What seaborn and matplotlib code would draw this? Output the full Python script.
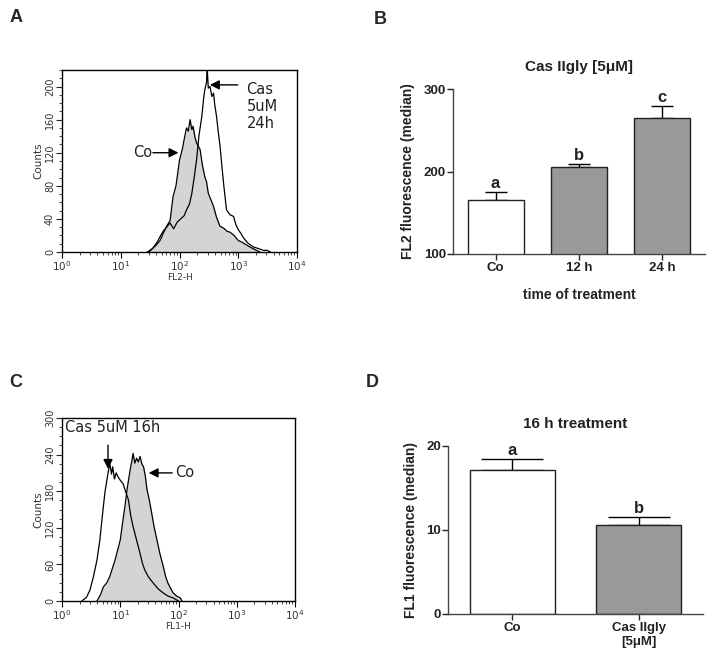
import numpy as np
import pandas as pd
import matplotlib
matplotlib.use("Agg")
import matplotlib.pyplot as plt
import seaborn as sns

sns.set_theme(style="white")
plt.rcParams['font.family'] = ['Liberation Sans', 'DejaVu Sans']

# ---------------- data ----------------
# Panel A: FL2-H histograms (log10 channel, counts)
a_co_log = [1.45, 1.52, 1.60, 1.67, 1.72, 1.78, 1.84, 1.89, 1.94, 2.00, 2.05, 2.09, 2.12, 2.15,
            2.18, 2.21, 2.23, 2.26, 2.29, 2.32, 2.35, 2.39, 2.43, 2.46, 2.49, 2.53, 2.58, 2.63,
            2.69, 2.75, 2.81, 2.86, 2.93, 3.00, 3.06, 3.13, 3.20, 3.28, 3.37]
a_co_cnt = [0, 3, 8, 14, 22, 31, 38, 67, 80, 111, 125, 140, 150, 146, 160, 148, 152, 140, 132,
            128, 124, 105, 91, 85, 71, 64, 55, 42, 31, 29, 25, 24, 20, 14, 12, 9, 6, 3, 0]

a_cas_log = [1.48, 1.55, 1.62, 1.68, 1.72, 1.78, 1.84, 1.90, 1.96, 2.02, 2.08, 2.12, 2.17, 2.21,
             2.25, 2.29, 2.33, 2.38, 2.41, 2.43, 2.46, 2.47, 2.49, 2.52, 2.55, 2.58, 2.60, 2.63,
             2.66, 2.69, 2.72, 2.75, 2.80, 2.86, 2.92, 2.96, 3.00, 3.05, 3.09, 3.16, 3.26, 3.35,
             3.43, 3.49, 3.55]
a_cas_cnt = [0, 5, 12, 20, 25, 30, 35, 28, 36, 40, 44, 51, 58, 71, 90, 111, 140, 164, 185, 196,
             205, 225, 198, 200, 188, 192, 178, 164, 145, 128, 105, 83, 51, 45, 43, 33, 27, 22,
             17, 11, 6, 4, 2, 2, 0]

# Panel C: FL1-H histograms
c_cas_log = [0.34, 0.42, 0.48, 0.54, 0.60, 0.65, 0.68, 0.71, 0.74, 0.77, 0.80, 0.82, 0.85, 0.87,
             0.90, 0.93, 0.96, 1.00, 1.05, 1.09, 1.14, 1.18, 1.22, 1.28, 1.34, 1.38, 1.42, 1.48,
             1.57, 1.65, 1.74, 1.82, 1.91, 2.00]
c_cas_cnt = [0, 6, 18, 40, 67, 100, 128, 155, 180, 198, 215, 226, 208, 220, 200, 210, 204, 198,
             192, 180, 166, 140, 122, 100, 78, 62, 51, 40, 29, 20, 13, 8, 5, 0]

c_co_log = [0.60, 0.66, 0.71, 0.77, 0.82, 0.87, 0.91, 0.96, 1.00, 1.04, 1.08, 1.12, 1.17, 1.20,
            1.22, 1.25, 1.28, 1.31, 1.34, 1.37, 1.40, 1.43, 1.46, 1.50, 1.54, 1.58, 1.63, 1.68,
            1.74, 1.78, 1.82, 1.87, 1.91, 1.97, 2.03, 2.06]
c_co_cnt = [0, 10, 23, 30, 40, 55, 67, 85, 100, 128, 155, 185, 215, 230, 242, 226, 234, 228,
            237, 225, 220, 205, 182, 165, 144, 122, 100, 78, 56, 40, 29, 20, 13, 8, 5, 0]

# Panel B: FL2 fluorescence (median)
b_cats = ["Co", "12 h", "24 h"]
b_vals = [165.5, 205.5, 265.0]
b_errs = [9.5, 4.0, 14.0]
b_letters = ["a", "b", "c"]
b_colors = ["#ffffff", "#999999", "#999999"]

# Panel D: FL1 fluorescence (median)
d_cats = ["Co", "Cas IIgly\n[5\u03bcM]"]
d_vals = [17.1, 10.6]
d_errs = [1.35, 0.95]
d_letters = ["a", "b"]
d_colors = ["#ffffff", "#999999"]

# ---------------- figure ----------------
W, H = 713, 663
fig = plt.figure(figsize=(W / 100, H / 100), dpi=100)

def box(l, t, r, b):
    return [l / W, 1 - b / H, (r - l) / W, (b - t) / H]

FILL = "#d4d4d4"
HFONT = ['DejaVu Sans']

def histo(ax, co_log, co_cnt, cas_log, cas_cnt, ymax, yticks, yminor, xlabel):
    co = pd.DataFrame({"x": np.power(10.0, co_log), "y": co_cnt})
    cas = pd.DataFrame({"x": np.power(10.0, cas_log), "y": cas_cnt})
    ax.fill_between(co["x"], co["y"], 0, color=FILL, lw=0, zorder=1)
    sns.lineplot(data=co, x="x", y="y", ax=ax, color="black", lw=0.9, sort=False,
                 estimator=None, zorder=3)
    sns.lineplot(data=cas, x="x", y="y", ax=ax, color="black", lw=0.9, sort=False,
                 estimator=None, zorder=3)
    ax.set_xscale("log")
    ax.set_xlim(1, 1e4)
    ax.set_ylim(0, ymax)
    ax.set_yticks(yticks)
    ax.set_yticks(yminor, minor=True)
    ax.set_yticklabels([str(v) for v in yticks], rotation=90, va="center",
                       fontsize=7, color="#333333", family=HFONT)
    ax.tick_params(axis="x", which="major", direction="out", length=4, width=0.8,
                   labelsize=7.5, pad=1, bottom=True, colors="black", labelcolor="#333333")
    ax.tick_params(axis="x", which="minor", direction="out", length=2, width=0.6, bottom=True)
    ax.tick_params(axis="y", which="major", direction="out", length=4, width=0.8, left=True, pad=1)
    ax.tick_params(axis="y", which="minor", direction="out", length=2, width=0.6, left=True)
    for lab in ax.get_xticklabels():
        lab.set_family(HFONT)
    for s in ax.spines.values():
        s.set_color("black")
        s.set_linewidth(1.0)
    ax.set_xlabel(xlabel, fontsize=6.5, labelpad=0, color="#333333", family=HFONT)
    ax.set_ylabel("Counts", fontsize=7.5, labelpad=1, color="#333333", family=HFONT)

# Panel A
axA = fig.add_axes(box(62, 70, 297, 252))
histo(axA, a_co_log, a_co_cnt, a_cas_log, a_cas_cnt, 220,
      [0, 40, 80, 120, 160, 200], list(range(0, 221, 10)), "FL2-H")
axA.annotate("", xy=(10 ** 2.03, 120), xytext=(10 ** 1.50, 120),
             arrowprops=dict(arrowstyle="-|>", color="black", lw=1.0, mutation_scale=14))
axA.text(10 ** 1.21, 120, "Co", fontsize=10.5, va="center", ha="left", family=HFONT, color="#222222")
axA.annotate("", xy=(10 ** 2.47, 202), xytext=(10 ** 3.04, 202),
             arrowprops=dict(arrowstyle="-|>", color="black", lw=1.0, mutation_scale=14))
axA.text(10 ** 3.14, 205, "Cas\n5uM\n24h", fontsize=10.5, va="top", ha="left",
         family=HFONT, color="#222222", linespacing=1.15)

# Panel C
axC = fig.add_axes(box(62, 418, 295, 601))
histo(axC, c_co_log, c_co_cnt, c_cas_log, c_cas_cnt, 300,
      [0, 60, 120, 180, 240, 300], list(range(0, 301, 15)), "FL1-H")
axC.annotate("", xy=(10 ** 0.79, 212), xytext=(10 ** 0.79, 260),
             arrowprops=dict(arrowstyle="-|>", color="black", lw=1.0, mutation_scale=14))
axC.text(10 ** 0.05, 284, "Cas 5uM 16h", fontsize=10.5, va="center", ha="left",
         family=HFONT, color="#222222")
axC.annotate("", xy=(10 ** 1.44, 210), xytext=(10 ** 1.94, 210),
             arrowprops=dict(arrowstyle="-|>", color="black", lw=1.0, mutation_scale=14))
axC.text(10 ** 1.95, 210, "Co", fontsize=10.5, va="center", ha="left", family=HFONT, color="#222222")


def bars(ax, cats, vals, errs, letters, colors, ylim, yticks, ylabel, title, capsize, letter_off):
    df = pd.DataFrame({"cat": cats, "val": vals})
    sns.barplot(data=df, x="cat", y="val", hue="cat", palette=colors, legend=False,
                ax=ax, width=0.67, edgecolor="#222222", linewidth=1.0, saturation=1)
    xs = np.arange(len(cats))
    ax.errorbar(xs, vals, yerr=[np.zeros(len(errs)), errs], fmt="none", ecolor="black",
                elinewidth=1.0, capsize=capsize, capthick=1.0, zorder=0.5)
    for x, v, e, t in zip(xs, vals, errs, letters):
        ax.text(x, v + e + letter_off, t, ha="center", va="bottom", fontsize=12,
                fontweight="bold", color="#222222")
    ax.set_ylim(*ylim)
    ax.set_yticks(yticks)
    ax.set_yticklabels([str(v) for v in yticks], fontweight="bold", fontsize=9.5, color="#222222")
    ax.set_xlim(-0.51, len(cats) - 0.49)
    ax.set_xticks(xs)
    ax.set_xticklabels(cats, fontweight="bold", fontsize=9.5, color="#222222")
    ax.tick_params(axis="y", direction="out", length=4, width=1, left=True, pad=1)
    ax.tick_params(axis="x", direction="out", length=4, width=1, bottom=True, pad=2)
    sns.despine(ax=ax)
    for s in ("left", "bottom"):
        ax.spines[s].set_color("#444444")
        ax.spines[s].set_linewidth(1.0)
    ax.set_ylabel(ylabel, fontweight="bold", fontsize=10, color="#222222", labelpad=6)
    ax.set_title(title, fontweight="bold", fontsize=11, color="#222222", pad=13)


# Panel B
axB = fig.add_axes(box(453, 89, 705, 254))
bars(axB, b_cats, b_vals, b_errs, b_letters, b_colors, (100, 300), [100, 200, 300],
     "FL2 fluorescence (median)", "Cas IIgly [5\u03bcM]", 8, 1)
axB.set_xlabel("time of treatment", fontweight="bold", fontsize=10, color="#222222", labelpad=10)

# Panel D
axD = fig.add_axes(box(448, 446, 703, 614))
bars(axD, d_cats, d_vals, d_errs, d_letters, d_colors, (0, 20), [0, 10, 20],
     "FL1 fluorescence (median)", "16 h treatment", 22, 0.1)
axD.set_xlabel("")

# panel letters
for lbl, x, y in [("A", 16, 17), ("B", 380, 19), ("C", 16, 383), ("D", 372, 383)]:
    fig.text(x / W, 1 - y / H, lbl, fontsize=13, fontweight="bold", ha="center", va="center")

fig.savefig("out.png", dpi=100)
